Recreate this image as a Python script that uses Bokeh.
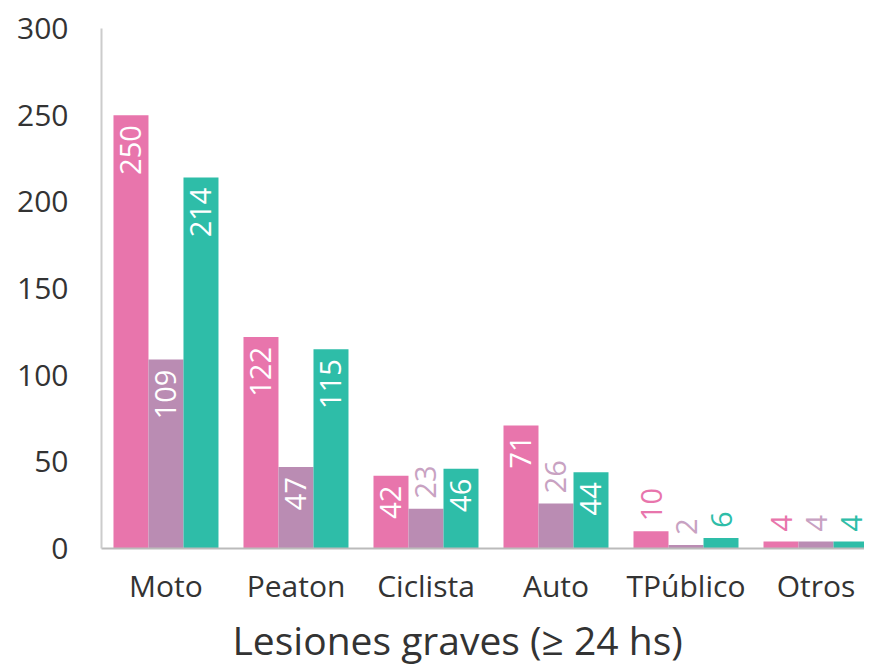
import numpy as np
from bokeh.plotting import figure
from bokeh.models import Range1d, FixedTicker, ColumnDataSource, Title
from bokeh.core.properties import value
from bokeh.embed import file_html
from bokeh.resources import INLINE

categories = ["Moto", "Peaton", "Ciclista", "Auto", "TPúblico", "Otros"]
serie_a = [250, 122, 42, 71, 10, 4]
serie_b = [109, 47, 23, 26, 2, 4]
serie_c = [214, 115, 46, 44, 6, 4]
y_ticks = [0, 50, 100, 150, 200, 250, 300]
x_title = "Lesiones graves (≥ 24 hs)"

series = [serie_a, serie_b, serie_c]
bar_colors = ["#E875AC", "#BA8CB3", "#2EBDA8"]
out_label_colors = ["#E875AC", "#C8A2C2", "#2EBDA8"]

FONT = "Open Sans"
TXT = "#333333"

p = figure(width=864, height=661, output_backend="svg", toolbar_location=None,
           x_range=Range1d(-0.496, 5.373), y_range=Range1d(0, 300),
           min_border_left=101, min_border_top=28, min_border_bottom=113,
           min_border_right=0, frame_width=763, frame_height=520)
p.outline_line_color = None
p.xgrid.visible = False
p.ygrid.visible = False
p.background_fill_color = "white"
p.border_fill_color = "white"

bw = 35 / 130
offsets = [-bw, 0, bw]
idx = np.arange(len(categories))

for s, off, col, lcol in zip(series, offsets, bar_colors, out_label_colors):
    xs = idx + off
    vals = np.array(s)
    p.vbar(x=xs, top=vals, width=bw, bottom=0, fill_color=col, line_color=None)
    inside = vals > 30
    src_in = ColumnDataSource(dict(x=xs[inside], y=vals[inside],
                                   t=[str(v) for v in vals[inside]]))
    src_out = ColumnDataSource(dict(x=xs[~inside], y=vals[~inside],
                                    t=[str(v) for v in vals[~inside]]))
    p.text(x="x", y="y", text="t", source=src_in, angle=np.pi / 2,
           text_align="right", text_baseline="middle", y_offset=10,
           text_color="white", text_font=value(FONT), text_font_size="29px")
    p.text(x="x", y="y", text="t", source=src_out, angle=np.pi / 2,
           text_align="left", text_baseline="middle", y_offset=-10,
           text_color=lcol, text_font=value(FONT), text_font_size="29px")

# axes
p.xaxis.ticker = FixedTicker(ticks=list(idx))
p.xaxis.major_label_overrides = {int(i): c for i, c in zip(idx, categories)}
p.xaxis.major_tick_line_color = None
p.xaxis.minor_tick_line_color = None
p.xaxis.axis_line_color = "#BBBBBB"
p.xaxis.axis_line_width = 2
p.xaxis.major_label_text_font = FONT
p.xaxis.major_label_text_font_size = "30px"
p.xaxis.major_label_text_color = TXT
p.xaxis.major_label_standoff = 10

p.yaxis.ticker = FixedTicker(ticks=y_ticks)
p.yaxis.major_tick_line_color = None
p.yaxis.minor_tick_line_color = None
p.yaxis.axis_line_color = "#CCCCCC"
p.yaxis.axis_line_width = 2
p.yaxis.major_label_text_font = FONT
p.yaxis.major_label_text_font_size = "30px"
p.yaxis.major_label_text_color = TXT
p.yaxis.major_label_standoff = 27

p.add_layout(Title(text=x_title, align="left", offset=131,
                   text_font=FONT, text_font_size="39px",
                   text_font_style="normal", text_color=TXT,
                   standoff=4), "below")

open("out.html", "w").write(file_html(p, INLINE))
